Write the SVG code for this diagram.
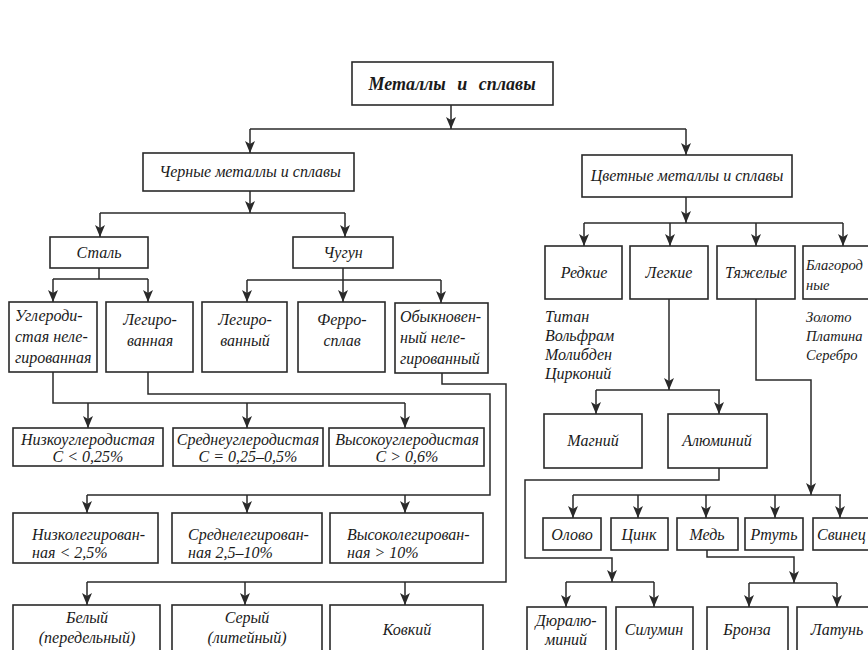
<svg xmlns="http://www.w3.org/2000/svg" width="868" height="650" viewBox="0 0 868 650">
<defs>
<style>
.b{fill:#fff;stroke:#2a2a2a;stroke-width:1.6}
.t{font-family:"Liberation Serif","DejaVu Serif",serif;font-style:italic;font-size:16px;fill:#1a1a1a}
.s{font-size:14.5px}
.c{text-anchor:middle}
.ln{fill:none;stroke:#2a2a2a;stroke-width:1.5}
.ar{marker-end:url(#ah)}
</style>
<marker id="ah" viewBox="0 0 12 12" refX="12" refY="6" markerWidth="12" markerHeight="12" markerUnits="userSpaceOnUse" orient="auto">
<path d="M0,1 L12,6 L0,11 L3,6 z" fill="#2a2a2a"/>
</marker>
</defs>
<rect width="868" height="650" fill="#fff"/>

<g id="connectors">
<path class="ln ar" d="M451,105 V129"/>
<path class="ln" d="M250,129 H686"/>
<path class="ln ar" d="M250,129 V153"/>
<path class="ln ar" d="M686,129 V155"/>
<path class="ln ar" d="M250,191 V213"/>
<path class="ln" d="M100,213 H345"/>
<path class="ln ar" d="M100,213 V237"/>
<path class="ln ar" d="M345,213 V237"/>
<path class="ln" d="M99,268 V279 M53,279 H148"/>
<path class="ln ar" d="M53,279 V302"/>
<path class="ln ar" d="M148,279 V302"/>
<path class="ln" d="M343,268 V280 M247,280 H441"/>
<path class="ln ar" d="M247,280 V302"/>
<path class="ln ar" d="M343,280 V302"/>
<path class="ln ar" d="M441,280 V303"/>
<path class="ln" d="M53,372 V403 H405"/>
<path class="ln ar" d="M88,403 V428"/>
<path class="ln ar" d="M247,403 V428"/>
<path class="ln ar" d="M405,403 V428"/>
<path class="ln" d="M148,372 V394 H490 V495 H87"/>
<path class="ln ar" d="M87,495 V513"/>
<path class="ln ar" d="M247,495 V513"/>
<path class="ln ar" d="M405,495 V513"/>
<path class="ln" d="M442,373 V384 H506 V582 H87"/>
<path class="ln ar" d="M87,582 V605"/>
<path class="ln ar" d="M245,582 V605"/>
<path class="ln ar" d="M405,582 V605"/>
<path class="ln ar" d="M686,197 V223"/>
<path class="ln" d="M584,223 H843"/>
<path class="ln ar" d="M584,223 V246"/>
<path class="ln ar" d="M670,223 V246"/>
<path class="ln ar" d="M756,223 V246"/>
<path class="ln ar" d="M843,223 V246"/>
<path class="ln ar" d="M669,299 V390"/>
<path class="ln" d="M596,390 H720"/>
<path class="ln ar" d="M596,390 V414"/>
<path class="ln ar" d="M719,390 V414"/>
<path class="ln ar" d="M756,299 V380 H811 V495"/>
<path class="ln" d="M573,495 H841"/>
<path class="ln ar" d="M573,495 V518"/>
<path class="ln ar" d="M638,495 V518"/>
<path class="ln ar" d="M706,495 V518"/>
<path class="ln ar" d="M775,495 V518"/>
<path class="ln ar" d="M840,495 V518"/>
<path class="ln ar" d="M719,468 V480 H525 V558 H612 V582"/>
<path class="ln" d="M566,582 H654"/>
<path class="ln ar" d="M566,582 V607"/>
<path class="ln ar" d="M654,582 V607"/>
<path class="ln ar" d="M707,550 V557 H794 V583"/>
<path class="ln" d="M749,583 H837"/>
<path class="ln ar" d="M749,583 V607"/>
<path class="ln ar" d="M837,583 V607"/>
</g>

<g id="metals"><rect class="b" x="352" y="62" width="201" height="43"/><text class="t c" x="452" y="90" style="font-weight:bold;font-size:18px;word-spacing:7px">Металлы и сплавы</text></g>
<g id="ferrous"><rect class="b" x="143" y="153" width="211" height="38"/><text class="t c" x="250" y="177">Черные металлы и сплавы</text></g>
<g id="nonferrous"><rect class="b" x="582" y="155" width="210" height="42"/><text class="t c" x="687" y="181">Цветные металлы и сплавы</text></g>
<g id="steel"><rect class="b" x="50" y="237" width="98" height="31"/><text class="t c" x="99" y="258">Сталь</text></g>
<g id="castiron"><rect class="b" x="293" y="237" width="100" height="31"/><text class="t c" x="343" y="258">Чугун</text></g>
<g id="carbon-steel"><rect class="b" x="9" y="302" width="88" height="70"/><text class="t" x="15" y="321">Углероди-</text><text class="t" x="15" y="342">стая неле-</text><text class="t" x="15" y="363">гированная</text></g>
<g id="alloy-steel"><rect class="b" x="106" y="302" width="87" height="70"/><text class="t c" x="150" y="325">Легиро-</text><text class="t c" x="150" y="346">ванная</text></g>
<g id="alloy-iron"><rect class="b" x="202" y="302" width="85" height="70"/><text class="t c" x="245" y="325">Легиро-</text><text class="t c" x="245" y="346">ванный</text></g>
<g id="ferroalloy"><rect class="b" x="298" y="302" width="87" height="70"/><text class="t c" x="342" y="325">Ферро-</text><text class="t c" x="342" y="346">сплав</text></g>
<g id="ordinary-iron"><rect class="b" x="395" y="303" width="93" height="70"/><text class="t" x="400" y="322">Обыкновен-</text><text class="t" x="400" y="343">ный неле-</text><text class="t" x="400" y="364">гированный</text></g>
<g id="low-carbon"><rect class="b" x="13" y="428" width="150" height="38"/><text class="t c" x="88" y="445">Низкоуглеродистая</text><text class="t c" x="88" y="462">C &lt; 0,25%</text></g>
<g id="mid-carbon"><rect class="b" x="173" y="428" width="150" height="38"/><text class="t c" x="248" y="445">Среднеуглеродистая</text><text class="t c" x="248" y="462">C = 0,25–0,5%</text></g>
<g id="high-carbon"><rect class="b" x="329" y="428" width="155" height="38"/><text class="t c" x="407" y="445">Высокоуглеродистая</text><text class="t c" x="407" y="462">C &gt; 0,6%</text></g>
<g id="low-alloy"><rect class="b" x="13" y="513" width="145" height="50"/><text class="t" x="32" y="540">Низколегирован-</text><text class="t" x="32" y="558">ная &lt; 2,5%</text></g>
<g id="mid-alloy"><rect class="b" x="172" y="513" width="150" height="50"/><text class="t" x="188" y="540">Среднелегирован-</text><text class="t" x="188" y="558">ная  2,5–10%</text></g>
<g id="high-alloy"><rect class="b" x="330" y="513" width="153" height="50"/><text class="t" x="347" y="540">Высоколегирован-</text><text class="t" x="347" y="558">ная &gt; 10%</text></g>
<g id="white-iron"><rect class="b" x="13" y="605" width="147" height="55"/><text class="t c" x="87" y="623">Белый</text><text class="t c" x="87" y="643">(передельный)</text></g>
<g id="grey-iron"><rect class="b" x="172" y="605" width="150" height="55"/><text class="t c" x="247" y="623">Серый</text><text class="t c" x="247" y="643">(литейный)</text></g>
<g id="malleable-iron"><rect class="b" x="330" y="605" width="153" height="55"/><text class="t c" x="407" y="635">Ковкий</text></g>
<g id="rare"><rect class="b" x="545" y="246" width="77" height="53"/><text class="t c" x="584" y="278">Редкие</text></g>
<g id="rare-list"><text class="t" x="545" y="322">Титан</text><text class="t" x="545" y="341">Вольфрам</text><text class="t" x="545" y="360">Молибден</text><text class="t" x="545" y="379">Цирконий</text></g>
<g id="light"><rect class="b" x="630" y="246" width="78" height="53"/><text class="t c" x="669" y="278">Легкие</text></g>
<g id="heavy"><rect class="b" x="717" y="246" width="78" height="53"/><text class="t c" x="756" y="278">Тяжелые</text></g>
<g id="noble"><rect class="b" x="803" y="246" width="80" height="53"/><text class="t s" x="806" y="270">Благород</text><text class="t s" x="806" y="290">ные</text></g>
<g id="noble-list"><text class="t s" x="806" y="322">Золото</text><text class="t s" x="806" y="341">Платина</text><text class="t s" x="806" y="360">Серебро</text></g>
<g id="magnesium"><rect class="b" x="544" y="414" width="98" height="54"/><text class="t c" x="593" y="446">Магний</text></g>
<g id="aluminium"><rect class="b" x="668" y="414" width="99" height="54"/><text class="t c" x="717" y="446">Алюминий</text></g>
<g id="tin"><rect class="b" x="543" y="518" width="58" height="32"/><text class="t c" x="572" y="540">Олово</text></g>
<g id="zinc"><rect class="b" x="611" y="518" width="57" height="32"/><text class="t c" x="639" y="540">Цинк</text></g>
<g id="copper"><rect class="b" x="677" y="518" width="61" height="32"/><text class="t c" x="707" y="540">Медь</text></g>
<g id="mercury"><rect class="b" x="745" y="518" width="58" height="32"/><text class="t c" x="774" y="540">Ртуть</text></g>
<g id="lead"><rect class="b" x="813" y="518" width="60" height="32"/><text class="t" x="817" y="540">Свинец</text></g>
<g id="duralumin"><rect class="b" x="527" y="607" width="79" height="55"/><text class="t c" x="566" y="626">Дюралю-</text><text class="t c" x="566" y="645">миний</text></g>
<g id="silumin"><rect class="b" x="616" y="607" width="77" height="55"/><text class="t c" x="654" y="635">Силумин</text></g>
<g id="bronze"><rect class="b" x="707" y="607" width="81" height="55"/><text class="t c" x="747" y="635">Бронза</text></g>
<g id="brass"><rect class="b" x="797" y="607" width="80" height="55"/><text class="t c" x="837" y="635">Латунь</text></g>
</svg>
